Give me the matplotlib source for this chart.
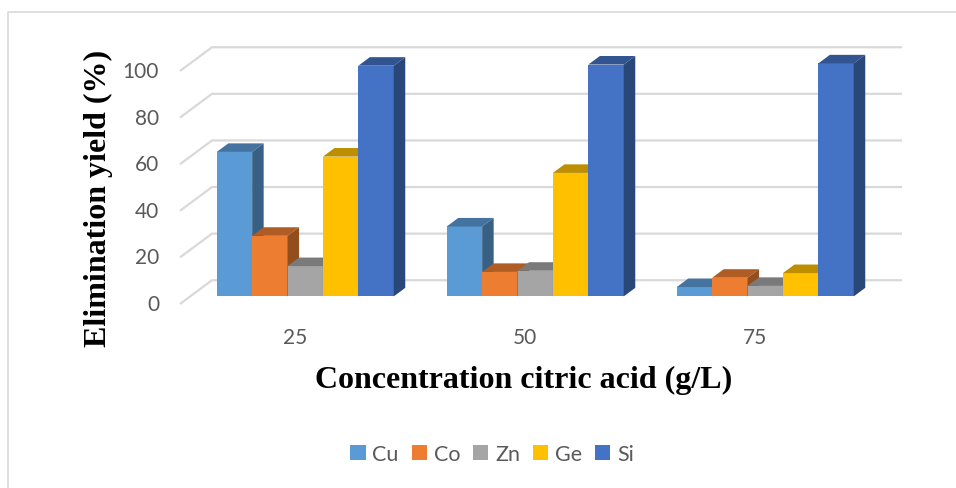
import matplotlib
matplotlib.use("Agg")
import matplotlib.pyplot as plt
from matplotlib.patches import Polygon, Rectangle, Patch
from matplotlib.lines import Line2D
import matplotlib.colors as mcolors
import numpy as np

# ---------------- data ----------------
categories = ["25", "50", "75"]
series = ["Cu", "Co", "Zn", "Ge", "Si"]
cu = [62, 30, 4]
co = [26, 10.5, 8]
zn = [13, 11, 4.5]
ge = [60, 53, 10]
si = [99, 99.5, 100]
yticks = [0, 20, 40, 60, 80, 100]
colors = ["#5B9BD5", "#ED7D31", "#A5A5A5", "#FFC000", "#4472C4"]
values = [cu, co, zn, ge, si]

# ---------------- layout ----------------
W, H = 956, 489
fig = plt.figure(figsize=(W / 100, H / 100), dpi=100)
ax = fig.add_axes([0, 0, 1, 1])
# front plane: x_px = 295 + 230*x, y_px = 305 - 2.33*v
XS, X0 = 230.0, 295.0
YS, Y0 = 2.33, 305.0
ax.set_xlim(-X0 / XS, (W - X0) / XS)
ax.set_ylim((Y0 - H) / YS, Y0 / YS)
ax.axis("off")

DXW, DYW = 32 / XS, 10.2          # full wall depth offset
F0, F1 = 0.32, 0.68               # bar depth range (fraction of wall depth)
BW = 35.4 / XS                    # bar width
xmin, xmax = -0.5, len(categories) - 0.5

grid_c = "#d9d9d9"
for v in yticks:
    ax.plot([xmin, xmin + DXW, xmax + DXW], [v, v + DYW, v + DYW],
            color=grid_c, lw=1.6, zorder=1, solid_capstyle="butt")
    ax.text(xmin - 21 / XS, v, str(v), ha="right", va="center",
            fontsize=15, color="#595959", family="Lato")

for j, c in enumerate(categories):
    ax.text(j, -14.2, c, ha="center", va="center", fontsize=15,
            color="#595959", family="Lato")


def shade(col, f):
    r, g, b = mcolors.to_rgb(col)
    return (r * f, g * f, b * f)


ddx, ddy = (F1 - F0) * DXW, (F1 - F0) * DYW
z = 3
for j in range(len(categories)):
    for i, vals in enumerate(values):
        v = vals[j]
        col = colors[i]
        xl = j + (i - 2.5) * BW + F0 * DXW
        y0 = F0 * DYW
        xr = xl + BW
        front = Rectangle((xl, y0), BW, v, facecolor=col, edgecolor="none", zorder=z)
        top = Polygon([(xl, y0 + v), (xr, y0 + v), (xr + ddx, y0 + v + ddy),
                       (xl + ddx, y0 + v + ddy)], closed=True,
                      facecolor=shade(col, 0.74), edgecolor="none", zorder=z)
        side = Polygon([(xr, y0), (xr, y0 + v), (xr + ddx, y0 + v + ddy),
                        (xr + ddx, y0 + ddy)], closed=True,
                       facecolor=shade(col, 0.62), edgecolor="none", zorder=z)
        ax.add_patch(front)
        ax.add_patch(top)
        ax.add_patch(side)
        z += 1

# ---------------- titles ----------------
fig.text(524 / W, 1 - 380 / H, "Concentration citric acid (g/L)", ha="center",
         va="center", fontsize=23, fontweight="bold", family="Liberation Serif")
fig.text(98 / W, 1 - 198 / H, "Elimination yield (%)", ha="center",
         va="center", rotation=90, fontsize=23, fontweight="bold",
         family="Liberation Serif")

# ---------------- legend ----------------
handles = [Patch(facecolor=c, edgecolor="none") for c in colors]
leg = fig.legend(handles, series, loc="center", bbox_to_anchor=(492 / W, 1 - 455 / H),
                 ncol=5, frameon=False, handlelength=0.72, handleheight=0.7,
                 handletextpad=0.3, columnspacing=0.6,
                 prop={"family": "Lato", "size": 15.5})
for t in leg.get_texts():
    t.set_color("#595959")

# ---------------- outer border ----------------
fig.add_artist(Line2D([7.5 / W, 7.5 / W, 1], [0, 1 - 12.5 / H, 1 - 12.5 / H],
                      transform=fig.transFigure, color="#d9d9d9", lw=1.2))

fig.savefig("out.png", dpi=100)
